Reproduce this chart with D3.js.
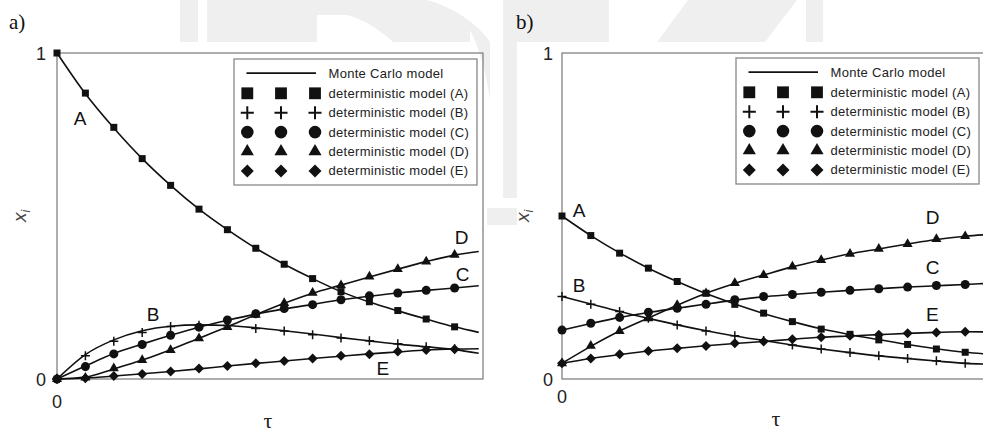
<!DOCTYPE html>
<html>
<head>
<meta charset="utf-8">
<script src="https://cdn.jsdelivr.net/npm/d3@7"></script>
<style>
  body { margin: 0; background: #fff; }
  svg { display: block; }
</style>
</head>
<body>
<svg id="chart" width="983" height="435"></svg>
<script>
// dimensionless time, one deterministic point per step
var tau =      [0, 1, 2, 3, 4, 5, 6, 7, 8, 9, 10, 11, 12, 13, 14]
var tauMC_a =  [0, 1, 2, 3, 4, 5, 6, 7, 8, 9, 10, 11, 12, 13, 14, 14.85]
var tauMC_b =  [0, 1, 2, 3, 4, 5, 6, 7, 8, 9, 10, 11, 12, 13, 14, 15]

var seriesNames = ['A', 'B', 'C', 'D', 'E']
var legendLabels = ['deterministic model (A)', 'deterministic model (B)', 'deterministic model (C)',
                    'deterministic model (D)', 'deterministic model (E)']
var yTickLabels = ['0', '1']

// panel a) deterministic model
var aDetA = [1.000, 0.877, 0.772, 0.676, 0.594, 0.521, 0.458, 0.401, 0.352, 0.308, 0.268, 0.237, 0.210, 0.184, 0.160]
var aDetB = [0.000, 0.071, 0.116, 0.143, 0.161, 0.165, 0.164, 0.155, 0.147, 0.136, 0.126, 0.117, 0.108, 0.099, 0.093]
var aDetC = [0.000, 0.038, 0.077, 0.106, 0.134, 0.159, 0.181, 0.200, 0.216, 0.228, 0.243, 0.255, 0.264, 0.272, 0.279]
var aDetD = [0.000, 0.004, 0.033, 0.058, 0.089, 0.125, 0.159, 0.197, 0.233, 0.264, 0.287, 0.314, 0.337, 0.360, 0.381]
var aDetE = [0.000, 0.002, 0.009, 0.015, 0.023, 0.032, 0.040, 0.048, 0.055, 0.063, 0.071, 0.076, 0.084, 0.089, 0.091]
// panel a) Monte Carlo model
var aMcA = [1.000, 0.875, 0.770, 0.676, 0.594, 0.521, 0.458, 0.401, 0.352, 0.308, 0.268, 0.236, 0.209, 0.184, 0.160, 0.143]
var aMcB = [0.000, 0.075, 0.120, 0.148, 0.162, 0.166, 0.164, 0.157, 0.148, 0.138, 0.127, 0.117, 0.107, 0.099, 0.090, 0.079]
var aMcC = [0.000, 0.040, 0.078, 0.107, 0.134, 0.159, 0.180, 0.199, 0.215, 0.229, 0.243, 0.254, 0.264, 0.272, 0.279, 0.286]
var aMcD = [0.000, 0.006, 0.031, 0.058, 0.090, 0.125, 0.160, 0.197, 0.232, 0.263, 0.288, 0.313, 0.337, 0.360, 0.380, 0.391]
var aMcE = [0.000, 0.003, 0.009, 0.016, 0.023, 0.031, 0.040, 0.048, 0.055, 0.063, 0.070, 0.077, 0.083, 0.089, 0.092, 0.093]

// panel b) deterministic model
var bDetA = [0.500, 0.440, 0.386, 0.340, 0.299, 0.263, 0.229, 0.202, 0.176, 0.153, 0.137, 0.120, 0.106, 0.092, 0.082]
var bDetB = [0.253, 0.229, 0.207, 0.186, 0.166, 0.147, 0.133, 0.118, 0.104, 0.092, 0.081, 0.071, 0.063, 0.056, 0.048]
var bDetC = [0.150, 0.171, 0.189, 0.205, 0.217, 0.229, 0.243, 0.253, 0.259, 0.266, 0.272, 0.277, 0.282, 0.287, 0.290]
var bDetD = [0.048, 0.102, 0.147, 0.186, 0.227, 0.263, 0.294, 0.319, 0.345, 0.365, 0.384, 0.399, 0.414, 0.429, 0.438]
var bDetE = [0.048, 0.063, 0.076, 0.086, 0.094, 0.101, 0.110, 0.115, 0.122, 0.128, 0.133, 0.136, 0.140, 0.143, 0.145]
// panel b) Monte Carlo model
var bMcA = [0.500, 0.440, 0.387, 0.340, 0.299, 0.262, 0.230, 0.201, 0.176, 0.154, 0.136, 0.121, 0.106, 0.093, 0.082, 0.075]
var bMcB = [0.253, 0.230, 0.207, 0.186, 0.166, 0.148, 0.132, 0.118, 0.104, 0.092, 0.081, 0.071, 0.063, 0.055, 0.048, 0.045]
var bMcC = [0.150, 0.170, 0.189, 0.204, 0.217, 0.230, 0.242, 0.252, 0.259, 0.266, 0.272, 0.277, 0.282, 0.286, 0.290, 0.294]
var bMcD = [0.048, 0.100, 0.147, 0.187, 0.226, 0.263, 0.293, 0.319, 0.344, 0.365, 0.384, 0.399, 0.414, 0.428, 0.438, 0.444]
var bMcE = [0.048, 0.063, 0.075, 0.086, 0.094, 0.102, 0.109, 0.115, 0.122, 0.128, 0.132, 0.136, 0.140, 0.143, 0.145, 0.144]

// curve letter positions [tau, x_i]
var aLabelPos = [[0.81, 0.80], [3.38, 0.20], [14.28, 0.322], [14.25, 0.436], [11.47, 0.034]]
var bLabelPos = [[0.59, 0.518], [0.59, 0.287], [12.87, 0.344], [12.87, 0.498], [12.86, 0.200]]

var sans = '"Liberation Sans", Arial, Helvetica, sans-serif'
var serif = '"Liberation Serif", "Times New Roman", serif'
var symbolKinds = ['square', 'plus', 'circle', 'triangle', 'diamond']

var panels = [
    { tag: 'a)', tagX: 9,   left: 57,  width: 426, mcTau: tauMC_a, det: [aDetA, aDetB, aDetC, aDetD, aDetE],
      mc: [aMcA, aMcB, aMcC, aMcD, aMcE], labels: aLabelPos, legendX: 234, legendY: 59,
      tickX: 46, x0Y: 408, tauY: 428, xiX: 20 },
    { tag: 'b)', tagX: 516, left: 562, width: 432, mcTau: tauMC_b, det: [bDetA, bDetB, bDetC, bDetD, bDetE],
      mc: [bMcA, bMcB, bMcC, bMcD, bMcE], labels: bLabelPos, legendX: 736, legendY: 58,
      tickX: 553, x0Y: 403, tauY: 426, xiX: 523 }
]

var svg = d3.select('#chart')
svg.append('rect').attr('width', 983).attr('height', 435).attr('fill', '#fff')

// faint watermark behind the figure
var wm = svg.append('g').attr('fill', '#efefef')
wm.append('rect').attr('x', 180).attr('y', 0).attr('width', 18).attr('height', 42)
wm.append('path').attr('d', 'M207,0H427C455,8 478,24 490,42V100C486,70 478,45 470,30L470,42H393C380,30 365,20 347,15H317V42H207Z')
wm.append('rect').attr('x', 503).attr('y', 0).attr('width', 106).attr('height', 42)
wm.append('rect').attr('x', 503).attr('y', 42).attr('width', 14).attr('height', 156)
wm.append('rect').attr('x', 487).attr('y', 208).attr('width', 30).attr('height', 17)
wm.append('path').attr('d', 'M688,0H797L765,42H657Z')
wm.append('rect').attr('x', 806).attr('y', 0).attr('width', 17).attr('height', 42)

function drawMarker(g, kind, cx, cy, big) {
    var k = big ? 1.45 : 1
    if (kind === 'plus') {
        var a = 4.5 * k
        g.append('path')
            .attr('d', `M${cx - a},${cy}H${cx + a}M${cx},${cy - a}V${cy + a}`)
            .attr('stroke', '#111').attr('stroke-width', big ? 2 : 1.5).attr('fill', 'none')
        return
    }
    var sym, size, rot = 0
    if (kind === 'square')   { sym = d3.symbolSquare;   size = big ? 140 : 49 }
    if (kind === 'circle')   { sym = d3.symbolCircle;   size = big ? 125 : 64 }
    if (kind === 'triangle') { sym = d3.symbolTriangle; size = big ? 75 : 44 }
    if (kind === 'diamond')  { sym = d3.symbolSquare;   size = big ? 84 : 50; rot = 45 }
    g.append('path')
        .attr('d', d3.symbol(sym, size)())
        .attr('transform', `translate(${cx},${cy}) rotate(${rot})`)
        .attr('fill', '#111')
}

panels.forEach(function(p) {
    var x = d3.scaleLinear().domain([0, 15]).range([p.left, p.left + p.width])
    var y = d3.scaleLinear().domain([0, 1]).range([379, 53])
    var g = svg.append('g')

    // frame
    g.append('rect')
        .attr('x', x(0)).attr('y', y(1))
        .attr('width', x(15) - x(0)).attr('height', y(0) - y(1))
        .attr('fill', 'none').attr('stroke', '#777').attr('stroke-width', 1.2)

    // y ticks labels
    g.selectAll('.ytick').data(yTickLabels).enter().append('text')
        .attr('x', p.tickX).attr('y', function(d) { return y(+d) + 6.5 })
        .attr('text-anchor', 'end').attr('font-family', sans).attr('font-size', 18).attr('fill', '#222')
        .text(function(d) { return d })
    g.append('text')
        .attr('x', x(0)).attr('y', p.x0Y)
        .attr('text-anchor', 'middle').attr('font-family', sans).attr('font-size', 18).attr('fill', '#222')
        .text('0')

    // axis titles
    g.append('text')
        .attr('x', x(7.5) - 2).attr('y', p.tauY)
        .attr('text-anchor', 'middle').attr('font-family', serif).attr('font-size', 22).attr('fill', '#222')
        .text('τ')
    var xi = g.append('text')
        .attr('transform', `translate(${p.xiX + 6},${y(0.5)}) rotate(-90)`)
        .attr('text-anchor', 'middle').attr('font-family', sans).attr('font-style', 'italic')
        .attr('font-size', 19).attr('fill', '#444')
    xi.append('tspan').text('x')
    xi.append('tspan').attr('font-size', 12).attr('dy', 4).text('i')

    g.append('text')
        .attr('x', p.tagX).attr('y', 29)
        .attr('font-family', serif).attr('font-size', 21).attr('fill', '#111')
        .text(p.tag)

    // Monte Carlo curves
    var line = d3.line()
        .x(function(d, i) { return x(p.mcTau[i]) })
        .y(function(d) { return y(d) })
        .curve(d3.curveMonotoneX)
    p.mc.forEach(function(vals) {
        g.append('path').attr('d', line(vals))
            .attr('fill', 'none').attr('stroke', '#111').attr('stroke-width', 1.6)
    })

    // deterministic points
    p.det.forEach(function(vals, s) {
        vals.forEach(function(v, i) {
            drawMarker(g, symbolKinds[s], x(tau[i]), y(v), false)
        })
    })

    // curve letters
    g.selectAll('.clabel').data(seriesNames).enter().append('text')
        .attr('x', function(d, i) { return x(p.labels[i][0]) })
        .attr('y', function(d, i) { return y(p.labels[i][1]) + 7 })
        .attr('text-anchor', 'middle').attr('font-family', sans).attr('font-size', 19).attr('fill', '#111')
        .text(function(d) { return d })

    // legend
    var lg = g.append('g').attr('transform', `translate(${p.legendX},${p.legendY})`)
    lg.append('rect').attr('x', 0).attr('y', 0).attr('width', 243).attr('height', 126)
        .attr('fill', '#fff').attr('stroke', '#888').attr('stroke-width', 1.3)
    var rowY = function(r) { return r === 0 ? 14.2 : 34.3 + (r - 1) * 19.4 }
    lg.append('line').attr('x1', 12.5).attr('x2', 82).attr('y1', rowY(0)).attr('y2', rowY(0))
        .attr('stroke', '#111').attr('stroke-width', 1.8)
    lg.append('text').attr('x', 94.5).attr('y', rowY(0) + 4.5)
        .attr('font-family', sans).attr('font-size', 13).attr('letter-spacing', 0.3).attr('fill', '#222')
        .text('Monte Carlo model')
    legendLabels.forEach(function(lbl, s) {
        [13.3, 47, 81].forEach(function(mx) {
            drawMarker(lg, symbolKinds[s], mx, rowY(s + 1), true)
        })
        lg.append('text').attr('x', 94.5).attr('y', rowY(s + 1) + 4.5)
            .attr('font-family', sans).attr('font-size', 13).attr('letter-spacing', 0.3).attr('fill', '#222')
            .text(lbl)
    })
})
</script>
</body>
</html>
